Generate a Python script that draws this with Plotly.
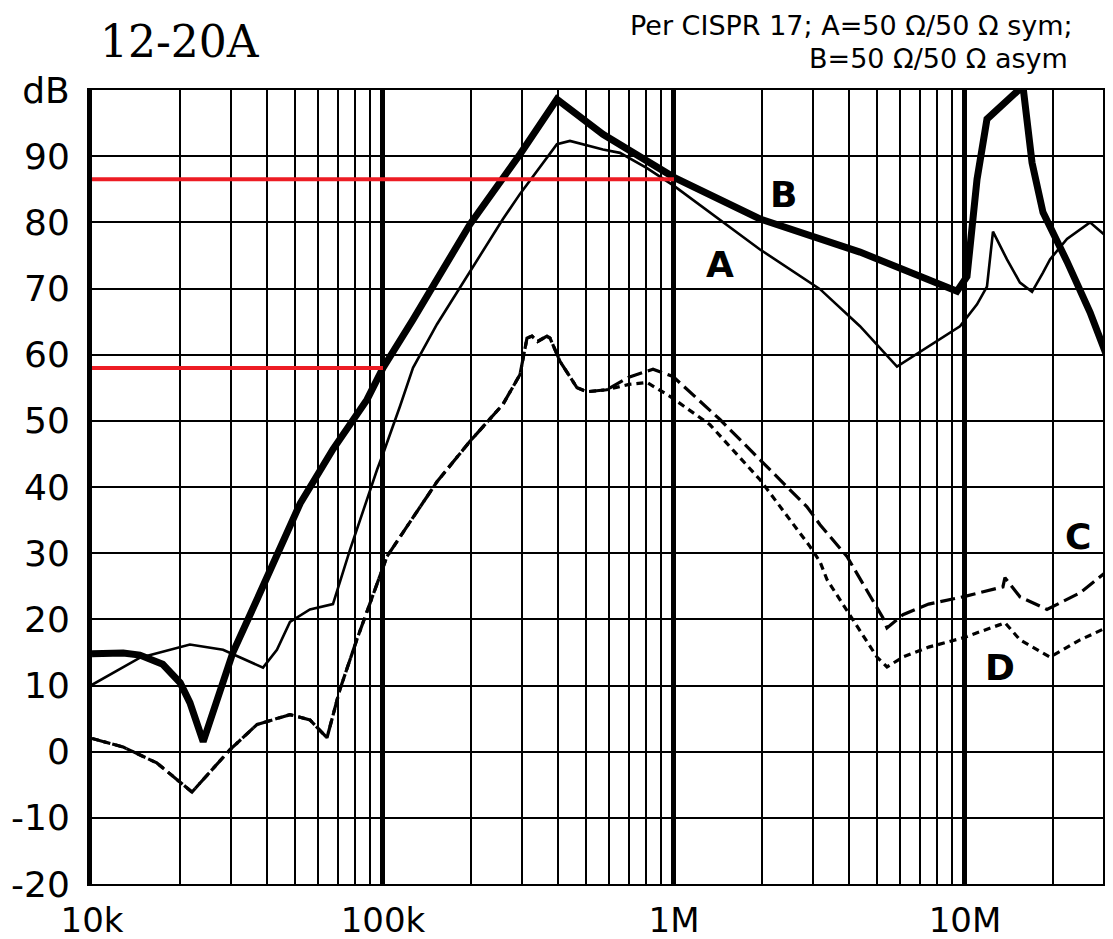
import numpy as np
import plotly.graph_objects as go

# ---------------- data ----------------
x_tick_vals = [1e4, 1e5, 1e6, 1e7]
x_tick_text = ["10k", "100k", "1M", "10M"]
y_tick_vals = [-20, -10, 0, 10, 20, 30, 40, 50, 60, 70, 80, 90, 100]
y_tick_text = ["-20", "-10", "0", "10", "20", "30", "40", "50", "60", "70", "80", "90", "dB"]

# Curve B (thick solid)
B_freq = [10e3, 12.8e3, 14.6e3, 17.5e3, 20.1e3, 21.7e3, 24.1e3, 26.9e3, 30.5e3, 36.9e3,
          44.3e3, 51.9e3, 67.3e3, 88.1e3, 100e3, 126.8e3, 199e3, 295.7e3, 396e3, 570e3,
          1e6, 1.975e6, 4.357e6, 9.1e6, 9.39e6, 10.16e6, 10.57e6, 11.0e6, 11.9e6, 15.82e6,
          17.0e6, 18.54e6, 22.41e6, 26.9e6, 32.3e6]
B_db = [14.8, 14.9, 14.6, 13.2, 10.4, 7.4, 1.5, 8.0, 15.0, 23.0,
        31.0, 37.5, 45.7, 53.2, 58.0, 65.3, 79.7, 90.3, 98.6, 93.3,
        86.8, 80.5, 75.5, 69.9, 69.6, 71.8, 79.0, 86.5, 95.6, 100.6,
        89.0, 81.5, 74.1, 66.4, 57.3]

# Curve A (thin solid)
A_freq = [10e3, 14.62e3, 21.7e3, 28.2e3, 38.7e3, 43.2e3, 47.9e3, 56.1e3, 67.3e3, 77e3,
          95.4e3, 100e3, 114.4e3, 126.8e3, 153.3e3, 199e3, 258.4e3, 295.7e3, 396e3, 439e3,
          570e3, 652e3, 807.6e3, 1e6, 1.975e6, 3.176e6, 4.357e6, 5.84e6, 9.61e6, 11.0e6,
          11.9e6, 12.48e6, 13.94e6, 15.45e6, 17.0e6, 18.54e6, 19.6e6, 22.41e6, 26.89e6, 32.3e6]
A_db = [10.1, 14.2, 16.2, 15.4, 12.7, 15.4, 19.6, 21.5, 22.3, 30.5,
        42.6, 45.0, 52.2, 58.0, 64.6, 72.6, 80.5, 84.3, 91.8, 92.3,
        91.0, 90.5, 88.2, 85.5, 75.9, 69.9, 64.3, 58.2, 64.3, 67.6,
        70.3, 78.6, 74.4, 70.9, 69.5, 72.4, 74.4, 77.5, 80.0, 77.0]

# Common low-frequency part of C and D
CD_freq = [10e3, 12.8e3, 16.7e3, 22.06e3, 29.8e3, 36.9e3, 47.9e3, 56.1e3, 64.2e3, 71.1e3,
           81.4e3, 103.2e3, 153.3e3, 199e3, 258.4e3, 295.7e3, 312.5e3, 325e3, 340e3, 366e3,
           375e3, 405.7e3, 464.2e3, 502.3e3, 587e3]
CD_db = [2.0, 0.7, -1.7, -6.1, 0.3, 4.1, 5.6, 4.8, 2.1, 9.4,
         17.0, 29.5, 40.8, 46.9, 52.5, 57.0, 62.5, 62.8, 62.0, 62.8,
         62.5, 59.0, 55.0, 54.4, 54.7]

# Curve C (long dashes), above the split
C_freq = [700e3, 847e3, 992e3, 1.439e6, 1.975e6, 2.864e6, 3.176e6, 3.931e6, 5.227e6, 5.395e6,
          6.12e6, 7.5e6, 9.84e6, 13.5e6, 13.72e6, 15.45e6, 19.13e6, 24.85e6, 32.3e6]
C_db = [56.6, 57.8, 56.7, 50.2, 44.2, 37.0, 34.3, 29.5, 20.2, 18.7,
        20.7, 22.3, 23.4, 24.9, 26.3, 23.4, 21.5, 24.0, 28.0]

# Curve D (short dashes), above the split
D_freq = [700e3, 807.6e3, 969e3, 1.33e6, 1.975e6, 2.934e6, 3.176e6, 3.356e6, 4.984e6, 5.395e6,
          6.12e6, 7.5e6, 9.84e6, 13.19e6, 13.72e6, 15.45e6, 19.6e6, 24.85e6, 32.3e6]
D_db = [55.5, 55.8, 53.7, 49.4, 41.1, 31.0, 28.7, 26.0, 14.3, 12.8,
        14.3, 15.8, 17.2, 19.2, 19.5, 16.9, 14.3, 16.9, 19.2]

# Red reference lines
red1_freq = [10e3, 1e6]
red1_db = [86.5, 86.5]
red2_freq = [10e3, 100e3]
red2_db = [58.0, 58.0]

# Curve labels
label_text = ["A", "B", "C", "D"]
label_freq = [1.44e6, 2.37e6, 24.4e6, 13.2e6]
label_db = [73.7, 84.2, 32.5, 12.7]

# Header texts
title_text = "12-20A"
note_lines = ["Per CISPR 17; A=50 Ω/50 Ω sym;", "B=50 Ω/50 Ω asym"]

# ---------------- figure ----------------
fig = go.Figure()

C_full_f = CD_freq + C_freq
C_full_d = CD_db + C_db
D_full_f = CD_freq + D_freq
D_full_d = CD_db + D_db

fig.add_trace(go.Scatter(x=D_full_f, y=D_full_d, mode="lines",
                         line=dict(color="black", width=3.2, dash="7px,5px")))
fig.add_trace(go.Scatter(x=C_full_f, y=C_full_d, mode="lines",
                         line=dict(color="black", width=3.2, dash="15px,6px")))
fig.add_trace(go.Scatter(x=A_freq, y=A_db, mode="lines",
                         line=dict(color="black", width=2.6)))
fig.add_trace(go.Scatter(x=B_freq, y=B_db, mode="lines",
                         line=dict(color="black", width=7)))
fig.add_trace(go.Scatter(x=red1_freq, y=red1_db, mode="lines",
                         line=dict(color="#ed1c24", width=4)))
fig.add_trace(go.Scatter(x=red2_freq, y=red2_db, mode="lines",
                         line=dict(color="#ed1c24", width=4)))

minor_vals = [m * 10 ** e for e in range(4, 8) for m in range(2, 10)]

fig.update_xaxes(type="log", range=[4, np.log10(32.26e6)],
                 tickvals=x_tick_vals, ticktext=x_tick_text,
                 showgrid=True, gridcolor="black", gridwidth=5,
                 minor=dict(tickvals=minor_vals, showgrid=True, gridcolor="black",
                            gridwidth=2, ticks=""),
                 showline=True, linecolor="black", linewidth=2, mirror=True,
                 ticks="", ticklabelstandoff=5, zeroline=False, automargin=False,
                 tickfont=dict(family="DejaVu Sans", size=34, color="black"))
fig.update_yaxes(range=[-20, 100], tickvals=y_tick_vals, ticktext=y_tick_text,
                 showgrid=True, gridcolor="black", gridwidth=2,
                 showline=True, linecolor="black", linewidth=5, mirror=False,
                 ticks="", ticklabelstandoff=10, zeroline=False, automargin=False,
                 tickfont=dict(family="DejaVu Sans", size=36, color="black"))

for t, f, d in zip(label_text, label_freq, label_db):
    fig.add_annotation(x=np.log10(f), y=d, xref="x", yref="y", text=t, showarrow=False,
                       font=dict(family="DejaVu Sans", size=36, color="black", weight="bold"),
                       bgcolor="rgba(0,0,0,0)")

fig.add_annotation(x=0.006, y=1.0605, xref="paper", yref="paper", text=title_text,
                   showarrow=False, xanchor="left", yanchor="middle",
                   font=dict(family="DejaVu Serif", size=44, color="black"))
fig.add_annotation(x=0.9628, y=1.0815, xref="paper", yref="paper", text=note_lines[0],
                   showarrow=False, xanchor="right", yanchor="middle",
                   font=dict(family="DejaVu Sans", size=27, color="black"))
fig.add_annotation(x=0.958, y=1.0403, xref="paper", yref="paper", text=note_lines[1],
                   showarrow=False, xanchor="right", yanchor="middle",
                   font=dict(family="DejaVu Sans", size=27, color="black"))

# the page body adds an 8px offset, so the figure is 8px smaller and margins shifted
fig.update_layout(width=1105, height=931, margin=dict(l=84, r=0, t=82, b=55),
                  plot_bgcolor="white", paper_bgcolor="white", showlegend=False)

fig.write_html("out.html")
